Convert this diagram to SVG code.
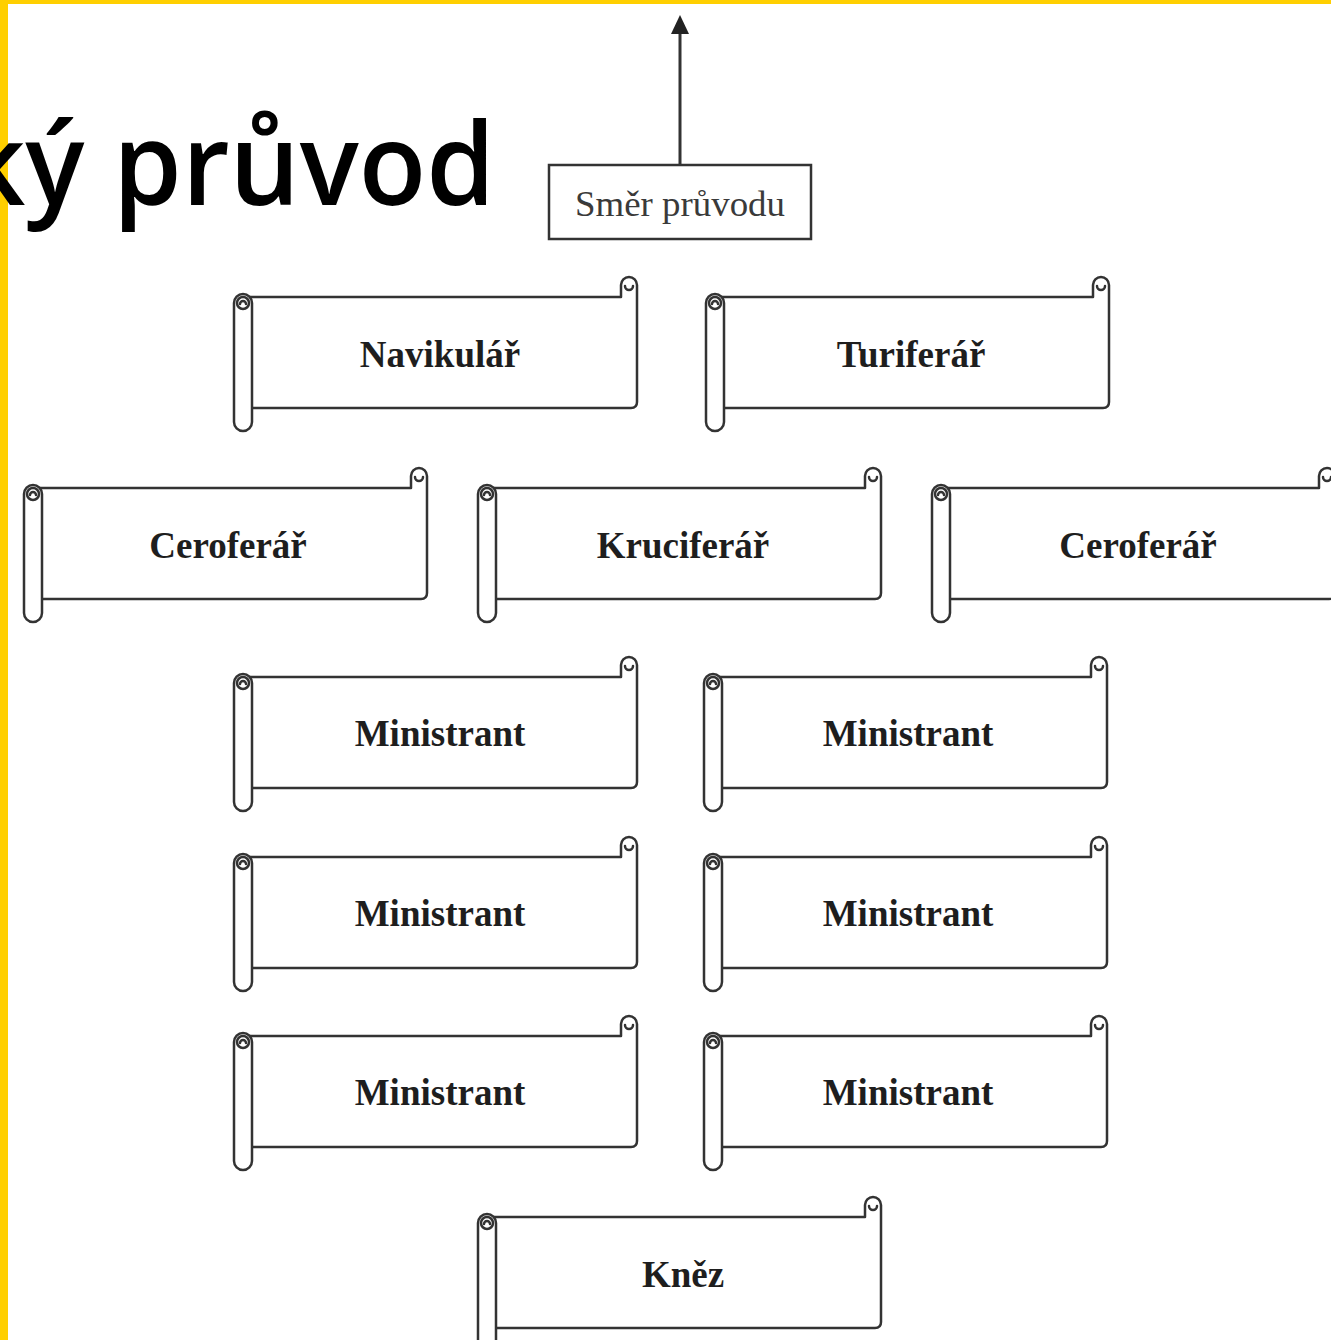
<svg xmlns="http://www.w3.org/2000/svg" xmlns:xlink="http://www.w3.org/1999/xlink" width="1331" height="1340" viewBox="0 0 1331 1340">
<style>
.ln{fill:none;stroke:#333;stroke-width:2.5;stroke-linejoin:round;stroke-linecap:round}
.wf{fill:#fff;stroke:#333;stroke-width:2.5;stroke-linejoin:round}
.lbl{font-family:"Liberation Serif","Times New Roman",serif;font-weight:bold;font-size:37px;fill:#1e1e1e;text-anchor:middle}
.dir{font-family:"Liberation Serif","Times New Roman",serif;font-size:35px;fill:#3a3a3a;text-anchor:middle}
.ttl{font-family:"Open Sans","Noto Sans",sans-serif;font-weight:600;font-size:115px;fill:#000}
</style>
<defs>
<g id="scroll">
<path class="wf" d="M18,111 H397 Q403,111 403,105 V-12 A8,8 0 0 0 387,-12 V0 H9"/>
<path class="ln" d="M391,-11 A4,4 0 0 0 399,-11"/>
<rect class="wf" x="0" y="-3" width="18" height="137" rx="9"/>
<circle class="ln" cx="9" cy="6" r="6"/>
<path class="ln" d="M6,7 A3,3 0 0 1 12,7"/>
</g>
<marker id="ah" markerWidth="10" markerHeight="10" refX="5" refY="0" orient="auto" markerUnits="userSpaceOnUse"/>
</defs>
<rect x="0" y="0" width="1331" height="1340" fill="#fff"/>
<rect x="0" y="0" width="1331" height="4" fill="#FFCF00"/>
<rect x="0" y="0" width="8" height="1340" fill="#FFCF00"/>
<text class="ttl" x="-38" y="205" textLength="533" lengthAdjust="spacingAndGlyphs">ký průvod</text>
<g id="connectors">
<line x1="680" y1="164" x2="680" y2="32" stroke="#333" stroke-width="3"/>
<polygon points="680,15 671,34 689,34" fill="#222"/>
</g>
<g id="smer">
<rect x="549" y="165" width="262" height="74" fill="#fff" stroke="#333" stroke-width="2.5"/>
<text class="dir" x="680" y="216" textLength="210" lengthAdjust="spacingAndGlyphs">Směr průvodu</text>
</g>
<g id="navikular"><use xlink:href="#scroll" x="234" y="297"/><text class="lbl" x="440" y="367">Navikulář</text></g>
<g id="turiferar"><use xlink:href="#scroll" x="706" y="297"/><text class="lbl" x="911" y="367">Turiferář</text></g>
<g id="ceroferar1"><use xlink:href="#scroll" x="24" y="488"/><text class="lbl" x="228" y="558">Ceroferář</text></g>
<g id="kruciferar"><use xlink:href="#scroll" x="478" y="488"/><text class="lbl" x="683" y="558">Kruciferář</text></g>
<g id="ceroferar2"><use xlink:href="#scroll" x="932" y="488"/><text class="lbl" x="1138" y="558">Ceroferář</text></g>
<g id="ministrant1"><use xlink:href="#scroll" x="234" y="677"/><text class="lbl" x="440" y="746">Ministrant</text></g>
<g id="ministrant2"><use xlink:href="#scroll" x="704" y="677"/><text class="lbl" x="908" y="746">Ministrant</text></g>
<g id="ministrant3"><use xlink:href="#scroll" x="234" y="857"/><text class="lbl" x="440" y="926">Ministrant</text></g>
<g id="ministrant4"><use xlink:href="#scroll" x="704" y="857"/><text class="lbl" x="908" y="926">Ministrant</text></g>
<g id="ministrant5"><use xlink:href="#scroll" x="234" y="1036"/><text class="lbl" x="440" y="1105">Ministrant</text></g>
<g id="ministrant6"><use xlink:href="#scroll" x="704" y="1036"/><text class="lbl" x="908" y="1105">Ministrant</text></g>
<g id="knez"><use xlink:href="#scroll" x="478" y="1217"/><text class="lbl" x="683" y="1287">Kněz</text></g>
</svg>
